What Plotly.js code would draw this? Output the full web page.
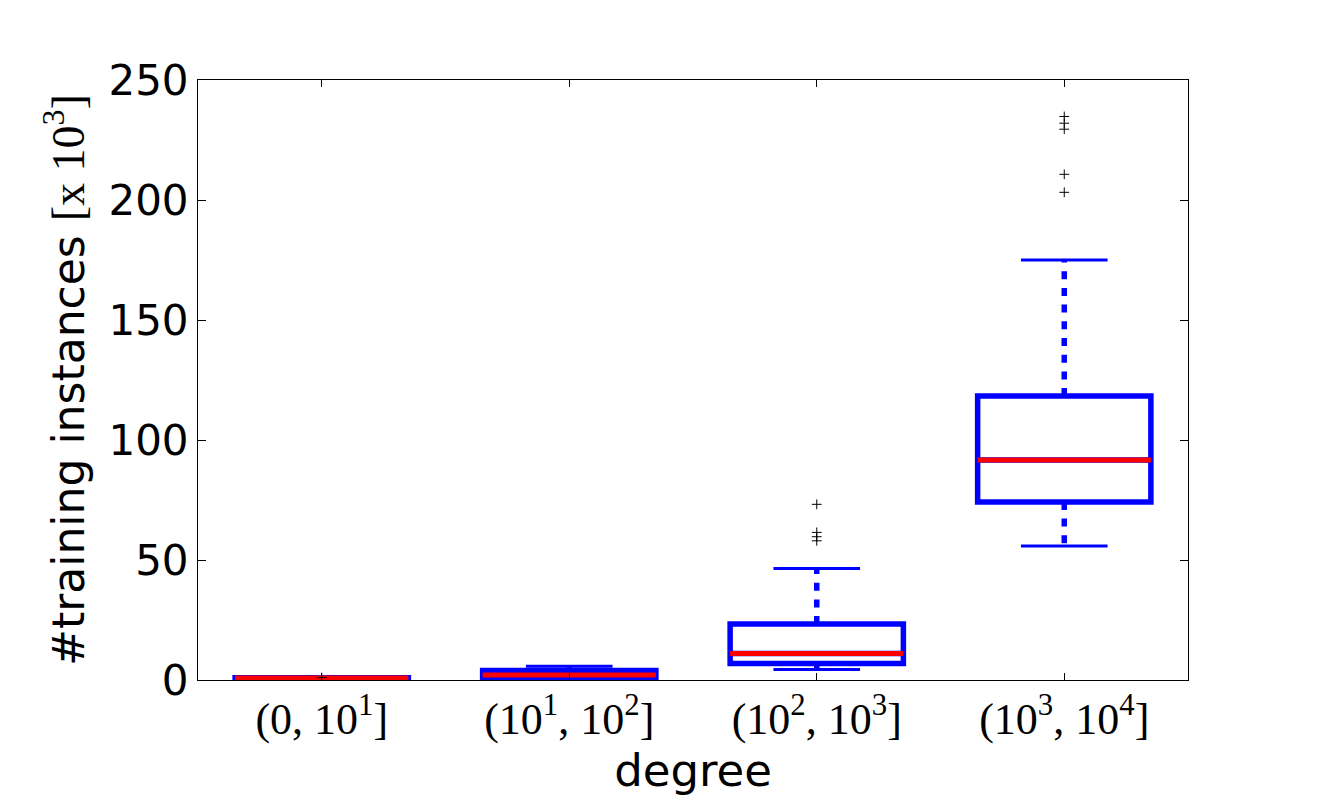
<!DOCTYPE html>
<html>
<head>
<meta charset="utf-8">
<script src="https://cdn.plot.ly/plotly-3.0.1.min.js"></script>
<style>
  body { margin: 0; background: #fff; }
  #chart { width: 1320px; height: 800px; }
</style>
</head>
<body>
<div id="chart"></div>
<script>
// degree buckets and box statistics (values in thousands of instances)
const positions = [1, 2, 3, 4];
const labels = ['(0, 10<sup>1</sup>]', '(10<sup>1</sup>, 10<sup>2</sup>]', '(10<sup>2</sup>, 10<sup>3</sup>]', '(10<sup>3</sup>, 10<sup>4</sup>]'];
const whiskLo = [0.0, 0.3, 4.4, 55.8];
const q1 = [0.1, 0.7, 6.9, 74.2];
const median = [0.8, 2.1, 11.0, 91.7];
const q3 = [0.9, 4.0, 23.3, 118.3];
const whiskHi = [1.0, 5.7, 46.5, 175.0];
const fliers = [
  [1.0],
  [],
  [73.2, 61.5, 59.7, 58.0],
  [234.8, 232.0, 229.5, 210.7, 203.2]
];

const boxWidth = 0.7;
const blue = '#0000ff';
const red = '#ff0000';

// whiskers as dashed segments from the box edges out to the caps
let wx = [], wy = [];
positions.forEach((p, i) => {
  wx.push(p, p, null, p, p, null);
  wy.push(q3[i], whiskHi[i], null, q1[i], whiskLo[i], null);
});

let cx = [], cy = [];
positions.forEach((p, i) => {
  let h = boxWidth / 4;
  cx.push(p - h, p + h, null, p - h, p + h, null);
  cy.push(whiskHi[i], whiskHi[i], null, whiskLo[i], whiskLo[i], null);
});

let mx = [], my = [];
positions.forEach((p, i) => {
  let h = boxWidth / 2;
  mx.push(p - h, p + h, null);
  my.push(median[i], median[i], null);
});

let fx = [], fy = [];
fliers.forEach((vals, i) => {
  vals.forEach(v => { fx.push(positions[i]); fy.push(v); });
});

const traces = [
  {
    type: 'scatter', mode: 'lines', x: wx, y: wy,
    line: { color: blue, width: 5.5, dash: '8px,8.7px' },
    hoverinfo: 'skip', showlegend: false
  },
  {
    type: 'box', x: positions, q1: q1, median: median, q3: q3,
    lowerfence: q1, upperfence: q3, width: boxWidth,
    line: { color: blue, width: 5.5 }, fillcolor: 'rgba(0,0,0,0)',
    boxpoints: false, whiskerwidth: 0, showlegend: false
  },
  {
    type: 'scatter', mode: 'lines', x: cx, y: cy,
    line: { color: blue, width: 3 }, hoverinfo: 'skip', showlegend: false
  },
  {
    type: 'scatter', mode: 'lines', x: mx, y: my,
    line: { color: red, width: 5 }, hoverinfo: 'skip', showlegend: false
  },
  {
    type: 'scatter', mode: 'markers', x: fx, y: fy,
    marker: { symbol: 'cross-thin-open', size: 7, color: '#000', line: { color: '#000', width: 1 } },
    showlegend: false
  }
];

const layout = {
  width: 1320, height: 800,
  margin: { l: 198, r: 132, t: 80, b: 120 },
  paper_bgcolor: '#fff', plot_bgcolor: '#fff',
  font: { family: 'DejaVu Sans', color: '#000', size: 42 },
  xaxis: {
    range: [0.5, 4.5], tickmode: 'array', tickvals: positions, ticktext: labels,
    tickfont: { family: 'Liberation Serif', size: 44 },
    ticks: 'inside', ticklen: 7, tickcolor: '#000', mirror: 'allticks',
    showline: true, linecolor: '#000', linewidth: 1, showgrid: false, zeroline: false,
    title: { text: 'degree', font: { size: 45 }, standoff: 0 }
  },
  yaxis: {
    range: [0, 250], dtick: 50,
    ticks: 'inside', ticklen: 8, tickcolor: '#000', mirror: 'allticks',
    showline: true, linecolor: '#000', linewidth: 1, showgrid: false, zeroline: false,
    title: {
      text: '#training instances <span style="font-family:Liberation Serif;font-size:46px">[x 10<sup>3</sup>]</span>',
      font: { size: 44 }, standoff: 10
    }
  }
};

Plotly.newPlot('chart', traces, layout, { displayModeBar: false, staticPlot: true });
</script>
</body>
</html>
